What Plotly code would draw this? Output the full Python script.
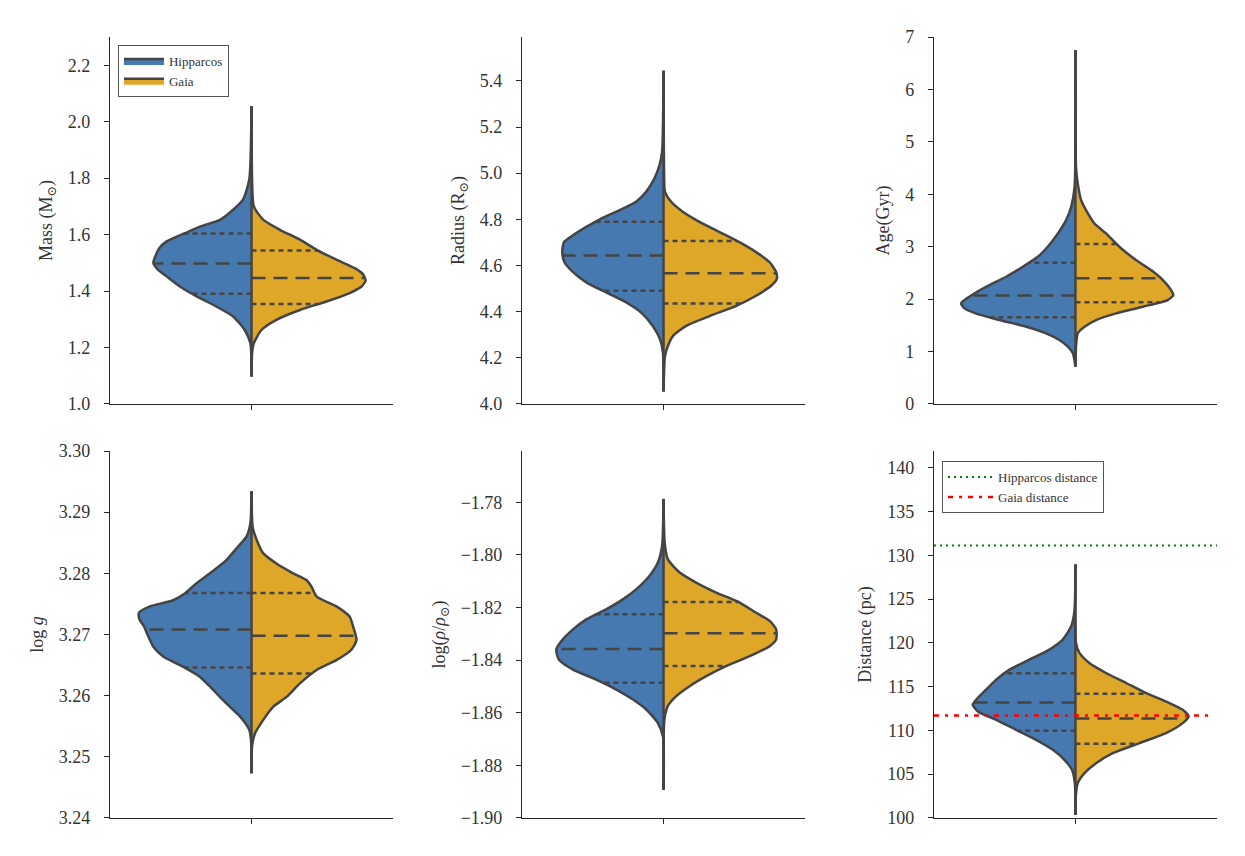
import numpy as np
import plotly.graph_objects as go
from plotly.subplots import make_subplots

# Colours (seaborn "windows blue" / "amber", desaturated)
hip_color = '#4679b0'
gaia_color = '#dfa727'
edge_color = '#444444'

# ---- Mass panel: violin half-profiles (value, density width)
mass_hip_y = [2.055, 1.795, 1.724, 1.688, 1.653, 1.629, 1.605, 1.576, 1.552, 1.523, 1.499,
              1.475, 1.452, 1.416, 1.381, 1.345, 1.310, 1.262, 1.215, 1.097]
mass_hip_d = [0, 0.008, 0.03, 0.065, 0.11, 0.18, 0.235, 0.30, 0.326, 0.34, 0.347,
              0.33, 0.30, 0.253, 0.194, 0.124, 0.065, 0.024, 0.004, 0]
mass_gaia_y = [2.055, 1.795, 1.700, 1.653, 1.617, 1.582, 1.546, 1.511, 1.481, 1.458, 1.437,
               1.416, 1.393, 1.363, 1.333, 1.298, 1.262, 1.215, 1.180, 1.097]
mass_gaia_d = [0, 0.002, 0.008, 0.041, 0.10, 0.171, 0.23, 0.30, 0.365, 0.395, 0.403,
               0.389, 0.347, 0.265, 0.171, 0.088, 0.035, 0.008, 0.002, 0]
mass_hip_q = [1.390, 1.498, 1.604]
mass_gaia_q = [1.354, 1.446, 1.544]

# ---- Radius panel
rad_hip_y = [5.444, 5.094, 5.036, 4.978, 4.920, 4.876, 4.840, 4.803, 4.767, 4.731, 4.701,
             4.658, 4.614, 4.571, 4.527, 4.483, 4.440, 4.396, 4.338, 4.279, 4.221, 4.054]
rad_hip_d = [0, 0.005, 0.014, 0.032, 0.061, 0.097, 0.155, 0.22, 0.273, 0.32, 0.352,
             0.358, 0.35, 0.32, 0.273, 0.203, 0.132, 0.079, 0.038, 0.012, 0.002, 0]
rad_gaia_y = [5.444, 5.0, 4.920, 4.876, 4.833, 4.789, 4.745, 4.701, 4.658, 4.614, 4.571,
              4.541, 4.512, 4.469, 4.425, 4.381, 4.338, 4.294, 4.250, 4.207, 4.054]
rad_gaia_d = [0, 0.002, 0.005, 0.027, 0.068, 0.127, 0.198, 0.268, 0.327, 0.375, 0.398,
              0.40, 0.38, 0.327, 0.257, 0.163, 0.08, 0.033, 0.015, 0.005, 0]
rad_hip_q = [4.490, 4.643, 4.789]
rad_gaia_q = [4.435, 4.566, 4.706]

# ---- Age panel
age_hip_y = [6.747, 4.142, 3.761, 3.507, 3.253, 2.999, 2.808, 2.618, 2.427, 2.236, 2.046,
             1.919, 1.823, 1.728, 1.601, 1.474, 1.347, 1.220, 1.093, 0.966, 0.712]
age_hip_d = [0, 0.003, 0.015, 0.033, 0.062, 0.098, 0.133, 0.186, 0.245, 0.316, 0.375,
             0.404, 0.392, 0.353, 0.269, 0.174, 0.104, 0.057, 0.027, 0.009, 0]
age_gaia_y = [6.747, 4.523, 4.206, 3.888, 3.634, 3.443, 3.253, 2.999, 2.745, 2.554, 2.363,
              2.173, 2.078, 1.982, 1.855, 1.728, 1.601, 1.474, 1.347, 1.093, 0.712]
age_gaia_d = [0, 0.002, 0.008, 0.02, 0.044, 0.067, 0.108, 0.155, 0.214, 0.267, 0.309,
              0.338, 0.346, 0.326, 0.238, 0.144, 0.073, 0.032, 0.008, 0.002, 0]
age_hip_q = [1.652, 2.071, 2.694]
age_gaia_q = [1.94, 2.40, 3.05]

# ---- log g panel
logg_hip_y = [3.2934, 3.2882, 3.2860, 3.2844, 3.2822, 3.2800, 3.2784, 3.2767, 3.2756, 3.2746,
              3.2736, 3.2726, 3.2713, 3.2697, 3.2680, 3.2664, 3.2647, 3.2631, 3.2615, 3.2598,
              3.2582, 3.2566, 3.2544, 3.2522, 3.2473]
logg_hip_d = [0, 0.004, 0.018, 0.047, 0.088, 0.147, 0.194, 0.236, 0.277, 0.359,
              0.397, 0.397, 0.38, 0.365, 0.347, 0.312, 0.241, 0.183, 0.147, 0.112,
              0.077, 0.041, 0.008, 0.001, 0]
logg_gaia_y = [3.2934, 3.2876, 3.2855, 3.2833, 3.2816, 3.2800, 3.2789, 3.2778, 3.2762, 3.2746,
               3.2729, 3.2713, 3.2691, 3.2675, 3.2658, 3.2642, 3.2620, 3.2598, 3.2582, 3.2560,
               3.2538, 3.2517, 3.2473]
logg_gaia_d = [0, 0.004, 0.018, 0.041, 0.088, 0.147, 0.194, 0.212, 0.23, 0.30,
               0.347, 0.359, 0.371, 0.353, 0.30, 0.23, 0.171, 0.124, 0.077, 0.041,
               0.012, 0.002, 0]
logg_hip_q = [3.2646, 3.2708, 3.2768]
logg_gaia_q = [3.2636, 3.2698, 3.2768]

# ---- log(rho) panel
rho_hip_y = [-1.7787, -1.7965, -1.8029, -1.8080, -1.8131, -1.8169, -1.8207, -1.8245, -1.8283,
             -1.8321, -1.8359, -1.8398, -1.8436, -1.8474, -1.8512, -1.8550, -1.8588, -1.8639,
             -1.8690, -1.8893]
rho_hip_d = [0, 0.005, 0.02, 0.05, 0.097, 0.144, 0.203, 0.273, 0.32,
             0.356, 0.379, 0.37, 0.32, 0.238, 0.167, 0.108, 0.061, 0.02,
             0.002, 0]
rho_gaia_y = [-1.7787, -1.7953, -1.8016, -1.8067, -1.8105, -1.8143, -1.8181, -1.8220, -1.8251,
              -1.8283, -1.8321, -1.8347, -1.8385, -1.8423, -1.8461, -1.8499, -1.8537, -1.8575,
              -1.8626, -1.8893]
rho_gaia_d = [0, 0.004, 0.015, 0.057, 0.115, 0.186, 0.269, 0.327, 0.375,
              0.398, 0.398, 0.375, 0.304, 0.221, 0.151, 0.092, 0.045, 0.015,
              0.003, 0]
rho_hip_q = [-1.8486, -1.8358, -1.8226]
rho_gaia_q = [-1.8422, -1.8298, -1.8179]

# ---- Distance panel
dist_hip_y = [128.94, 123.79, 121.89, 120.36, 119.22, 118.07, 116.93, 115.79, 114.64, 113.50,
              112.93, 112.16, 111.21, 110.07, 108.92, 107.78, 106.63, 105.49, 103.96, 100.34]
dist_hip_d = [0, 0.003, 0.015, 0.045, 0.092, 0.163, 0.233, 0.28, 0.316, 0.351,
              0.363, 0.345, 0.28, 0.21, 0.139, 0.08, 0.039, 0.012, 0.002, 0]
dist_gaia_y = [128.94, 119.98, 118.84, 117.69, 116.55, 115.41, 114.26, 113.12, 112.35, 111.59,
               110.83, 109.69, 108.54, 107.40, 106.25, 105.11, 103.96, 102.44, 100.34]
dist_gaia_d = [0, 0.002, 0.014, 0.049, 0.108, 0.179, 0.25, 0.332, 0.379, 0.40,
               0.379, 0.32, 0.226, 0.132, 0.073, 0.032, 0.008, 0.001, 0]
dist_hip_q = [109.95, 113.19, 116.51]
dist_gaia_q = [108.47, 111.36, 114.18]

hip_distance = 131.1
gaia_distance = 111.7

# Axis titles, ranges and ticks
titles = ['Mass (M<sub>⊙</sub>)', 'Radius (R<sub>⊙</sub>)', 'Age(Gyr)',
          'log <i>g</i>', 'log(<i>ρ</i>/<i>ρ</i><sub>⊙</sub>)', 'Distance (pc)']
ranges = [[1.0, 2.3], [4.0, 5.59], [0, 7], [3.24, 3.30], [-1.90, -1.7605], [100, 141.9]]
ticks = [
    ['1.0', '1.2', '1.4', '1.6', '1.8', '2.0', '2.2'],
    ['4.0', '4.2', '4.4', '4.6', '4.8', '5.0', '5.2', '5.4'],
    ['0', '1', '2', '3', '4', '5', '6', '7'],
    ['3.24', '3.25', '3.26', '3.27', '3.28', '3.29', '3.30'],
    ['−1.90', '−1.88', '−1.86', '−1.84', '−1.82', '−1.80', '−1.78'],
    ['100', '105', '110', '115', '120', '125', '130', '135', '140'],
]

panels = [
    (mass_hip_y, mass_hip_d, mass_gaia_y, mass_gaia_d, mass_hip_q, mass_gaia_q),
    (rad_hip_y, rad_hip_d, rad_gaia_y, rad_gaia_d, rad_hip_q, rad_gaia_q),
    (age_hip_y, age_hip_d, age_gaia_y, age_gaia_d, age_hip_q, age_gaia_q),
    (logg_hip_y, logg_hip_d, logg_gaia_y, logg_gaia_d, logg_hip_q, logg_gaia_q),
    (rho_hip_y, rho_hip_d, rho_gaia_y, rho_gaia_d, rho_hip_q, rho_gaia_q),
    (dist_hip_y, dist_hip_d, dist_gaia_y, dist_gaia_d, dist_hip_q, dist_gaia_q),
]

fig = make_subplots(rows=2, cols=3)


def half_violin(y, d, side, color, name, row, col, show):
    y = np.array(y)
    d = np.array(d)
    fig.add_trace(go.Scatter(x=side * d, y=y, mode='lines', fill='toself', fillcolor=color,
                             line=dict(color=edge_color, width=2.5, shape='spline', smoothing=0.6),
                             name=name, showlegend=show, legend='legend', hoverinfo='skip'),
                  row=row, col=col)


def quart_lines(y, d, q, side, row, col):
    order = np.argsort(y)
    ys = np.array(y)[order]
    ds = np.array(d)[order]
    for i, val in enumerate(q):
        w = np.interp(val, ys, ds)
        dash = '14px,8px' if i == 1 else '5px,4px'
        fig.add_trace(go.Scatter(x=[0, side * w], y=[val, val], mode='lines',
                                 line=dict(color=edge_color, width=2.5, dash=dash),
                                 showlegend=False, hoverinfo='skip'),
                      row=row, col=col)


for k, (hy, hd, gy, gd, hq, gq) in enumerate(panels):
    row = k // 3 + 1
    col = k % 3 + 1
    half_violin(hy, hd, -1, hip_color, 'Hipparcos', row, col, k == 0)
    half_violin(gy, gd, 1, gaia_color, 'Gaia', row, col, k == 0)
    # centre line shared by both halves
    fig.add_trace(go.Scatter(x=[0, 0], y=[min(hy + gy), max(hy + gy)], mode='lines',
                             line=dict(color=edge_color, width=2.5),
                             showlegend=False, hoverinfo='skip'),
                  row=row, col=col)
    quart_lines(hy, hd, hq, -1, row, col)
    quart_lines(gy, gd, gq, 1, row, col)

# reference distances
fig.add_trace(go.Scatter(x=[-0.5, 0.5], y=[hip_distance, hip_distance], mode='lines',
                         line=dict(color='#008000', width=2, dash='2px,4px'),
                         name='Hipparcos distance', legend='legend2'), row=2, col=3)
fig.add_trace(go.Scatter(x=[-0.5, 0.48], y=[gaia_distance, gaia_distance], mode='lines',
                         line=dict(color='#ff0000', width=2.5, dash='5px,6px,3px,6px'),
                         name='Gaia distance', legend='legend2'), row=2, col=3)

# plot area 1185x796; the page body adds an 8px offset, so margins compensate
xdom = [[0.0591, 0.2979], [0.4068, 0.6456], [0.7544, 0.9932]]
ydom = [[0.5302, 0.9912], [0.0101, 0.4711]]
font = dict(family='Liberation Serif, DejaVu Serif, serif', size=18, color='#333333')
legfont = dict(family='Liberation Serif, serif', size=13, color='#333333')

for k in range(6):
    row = k // 3 + 1
    col = k % 3 + 1
    vals = [float(t.replace('−', '-')) for t in ticks[k]]
    fig.update_xaxes(domain=xdom[col - 1], range=[-0.5, 0.5], tickvals=[0], showticklabels=False,
                     ticks='outside', ticklen=5, tickwidth=1.25, tickcolor='#262626',
                     showline=True, linecolor='#262626', linewidth=1.25, automargin=False,
                     showgrid=False, zeroline=False, fixedrange=True, row=row, col=col)
    fig.update_yaxes(domain=ydom[row - 1], range=ranges[k], tickvals=vals, ticktext=ticks[k],
                     ticks='outside', ticklen=5, tickwidth=1.25, tickcolor='#262626',
                     showline=True, linecolor='#262626', linewidth=1.25, automargin=False,
                     ticklabelstandoff=10,
                     showgrid=False, zeroline=False, title=dict(text=titles[k], font=font, standoff=10),
                     tickfont=font, row=row, col=col)

fig.update_layout(
    width=1245, height=856,
    margin=dict(l=32, r=28, t=22, b=38),
    paper_bgcolor='white', plot_bgcolor='white',
    font=font,
    legend=dict(x=0.0658, y=0.9812, xanchor='left', yanchor='top',
                bgcolor='white', bordercolor='#555555', borderwidth=1,
                font=legfont, itemwidth=40, tracegroupgap=0),
    legend2=dict(x=0.7612, y=0.4585, xanchor='left', yanchor='top',
                 bgcolor='white', bordercolor='#555555', borderwidth=1,
                 font=legfont, itemwidth=45),
)

fig.write_html("out.html")
